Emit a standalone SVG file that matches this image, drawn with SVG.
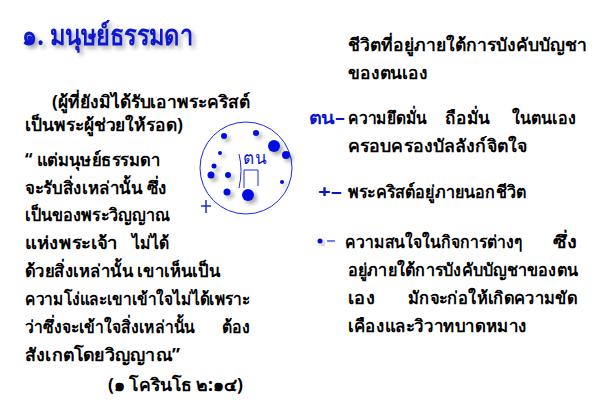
<svg xmlns="http://www.w3.org/2000/svg" width="600" height="416" viewBox="0 0 600 416">
<defs>
<filter id="sh" x="-50%" y="-50%" width="200%" height="200%">
<feGaussianBlur in="SourceAlpha" stdDeviation="2"/>
<feOffset dx="3" dy="3" result="b"/>
<feComponentTransfer><feFuncA type="linear" slope="0.35"/></feComponentTransfer>
<feMerge><feMergeNode/><feMergeNode in="SourceGraphic"/></feMerge>
</filter>
</defs>
<style>
text{font-family:"Noto Sans","DejaVu Sans",sans-serif;font-size:17.5px;fill:#000;font-weight:bold}
.t{fill:#0a14d0;font-size:28px}
.b{fill:#0a14d0}
.dot{fill:#0010e0}
</style>
<rect width="600" height="416" fill="#fff"/>
<g id="title" filter="url(#sh)"><text class="t" x="22" y="45" textLength="171" lengthAdjust="spacingAndGlyphs">๑. มนุษย์ธรรมดา</text></g>
<g id="left">
<text x="52" y="108" textLength="198" lengthAdjust="spacingAndGlyphs">(ผู้ที่ยังมิได้รับเอาพระคริสต์</text>
<text x="25" y="131" textLength="158" lengthAdjust="spacingAndGlyphs">เป็นพระผู้ช่วยให้รอด)</text>
<text x="25" y="166" textLength="135" lengthAdjust="spacingAndGlyphs">“ แต่มนุษย์ธรรมดา</text>
<text x="25" y="194" textLength="142" lengthAdjust="spacingAndGlyphs">จะรับสิ่งเหล่านั้น ซึ่ง</text>
<text x="25" y="221" textLength="145" lengthAdjust="spacingAndGlyphs">เป็นของพระวิญญาณ</text>
<text x="25" y="249" textLength="93" lengthAdjust="spacingAndGlyphs">แห่งพระเจ้า</text>
<text x="132" y="249" textLength="37" lengthAdjust="spacingAndGlyphs">ไม่ได้</text>
<text x="25" y="277" textLength="195" lengthAdjust="spacingAndGlyphs">ด้วยสิ่งเหล่านั้น เขาเห็นเป็น</text>
<text x="25" y="305" textLength="225" lengthAdjust="spacingAndGlyphs">ความโง่และเขาเข้าใจไม่ได้เพราะ</text>
<text x="25" y="333" textLength="170" lengthAdjust="spacingAndGlyphs">ว่าซึ่งจะเข้าใจสิ่งเหล่านั้น</text>
<text x="222" y="333" textLength="28" lengthAdjust="spacingAndGlyphs">ต้อง</text>
<text x="25" y="361" textLength="155" lengthAdjust="spacingAndGlyphs">สังเกตโดยวิญญาณ”</text>
<text x="108" y="391" textLength="135" lengthAdjust="spacingAndGlyphs">(๑ โครินโธ ๒:๑๔)</text>
</g>
<g id="circle">
<circle cx="246" cy="168" r="46" fill="none" stroke="#1a2ae0" stroke-width="1"/>
<g filter="url(#sh)">
<circle class="dot" cx="224" cy="136" r="3"/>
<circle class="dot" cx="256" cy="133" r="3"/>
<circle class="dot" cx="274" cy="146" r="6"/>
<circle class="dot" cx="286" cy="155" r="4"/>
<circle class="dot" cx="220" cy="153" r="2"/>
<circle class="dot" cx="214" cy="166" r="2.5"/>
<circle class="dot" cx="211" cy="175" r="3.5"/>
<circle class="dot" cx="228" cy="175" r="3"/>
<circle class="dot" cx="282" cy="182" r="2"/>
<circle class="dot" cx="227" cy="192" r="3.5"/>
<circle class="dot" cx="248" cy="195" r="6"/>
</g>
<text x="243" y="164" textLength="23" lengthAdjust="spacingAndGlyphs" style="fill:#0a14d0;font-size:18px;font-weight:normal">ตน</text>
<path d="M239 154 Q243 170 239 188 M244 170 H258 V186 M244 170 V188" fill="none" stroke="#1a2ae0" stroke-width="1"/>
<path d="M206 200 V213 M201 206 H211" stroke="#1a2ae0" stroke-width="1.5"/>
</g>
<g id="right">
<text x="348" y="51" textLength="239" lengthAdjust="spacingAndGlyphs">ชีวิตที่อยู่ภายใต้การบังคับบัญชา</text>
<text x="348" y="79" textLength="80" lengthAdjust="spacingAndGlyphs">ของตนเอง</text>
</g>
<g id="item1">
<text class="b" x="309" y="124" textLength="36" lengthAdjust="spacingAndGlyphs">ตน–</text>
<text x="348" y="124" textLength="79" lengthAdjust="spacingAndGlyphs">ความยึดมั่น</text>
<text x="445" y="124" textLength="45" lengthAdjust="spacingAndGlyphs">ถือมั่น</text>
<text x="512" y="124" textLength="64" lengthAdjust="spacingAndGlyphs">ในตนเอง</text>
<text x="348" y="152" textLength="179" lengthAdjust="spacingAndGlyphs">ครอบครองบัลลังก์จิตใจ</text>
</g>
<g id="item2">
<text class="b" x="318" y="198" textLength="24" lengthAdjust="spacingAndGlyphs">+–</text>
<text x="348" y="198" textLength="178" lengthAdjust="spacingAndGlyphs">พระคริสต์อยู่ภายนอกชีวิต</text>
</g>
<g id="item3">
<circle class="dot" cx="320" cy="241" r="2.5" filter="url(#sh)"/>
<path d="M327 241 H335" stroke="#1a2ae0" stroke-width="1.2"/>
<text x="345" y="248" textLength="177" lengthAdjust="spacingAndGlyphs">ความสนใจในกิจการต่างๆ</text>
<text x="553" y="248" textLength="24" lengthAdjust="spacingAndGlyphs">ซึ่ง</text>
<text x="348" y="276" textLength="230" lengthAdjust="spacingAndGlyphs">อยู่ภายใต้การบังคับบัญชาของตน</text>
<text x="348" y="304" textLength="27" lengthAdjust="spacingAndGlyphs">เอง</text>
<text x="408" y="304" textLength="169" lengthAdjust="spacingAndGlyphs">มักจะก่อให้เกิดความขัด</text>
<text x="348" y="332" textLength="179" lengthAdjust="spacingAndGlyphs">เคืองและวิวาทบาดหมาง</text>
</g>
</svg>
